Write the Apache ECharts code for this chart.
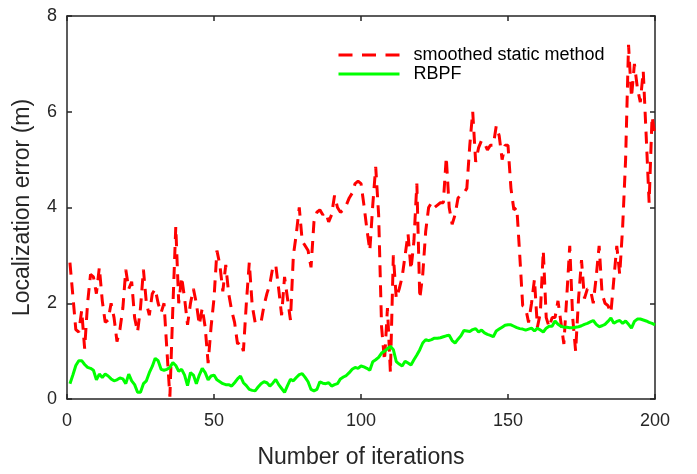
<!DOCTYPE html>
<html>
<head>
<meta charset="utf-8">
<script src="https://cdn.jsdelivr.net/npm/echarts@6/dist/echarts.min.js"></script>
<style>
html,body{margin:0;padding:0;background:#fff;}
#c{width:697px;height:474px;}
</style>
</head>
<body>
<div id="c"></div>
<script>
const xTicks = [0, 50, 100, 150, 200];
const yTicks = [0, 2, 4, 6, 8];
const seriesNames = ['smoothed static method', 'RBPF'];
const iterations = [];
for (let i = 1; i <= 200; i++) iterations.push(i);

const smoothedStatic = [
2.85,2.15,1.45,1.4,1.85,1.05,2.0,2.6,2.55,2.2,
2.75,2.05,1.6,1.65,2.0,1.7,1.2,1.45,1.9,2.7,
2.3,2.45,1.7,1.4,1.9,2.7,2.0,1.75,2.2,2.3,
2.0,1.8,2.0,1.0,0.05,1.9,3.6,2.0,2.55,2.1,
1.55,2.0,2.3,2.0,1.55,1.9,1.5,0.75,1.5,2.1,
3.1,2.8,2.25,2.8,2.2,1.85,1.6,1.15,1.2,1.0,
2.0,2.85,1.95,1.6,1.6,1.6,1.95,2.2,2.4,2.75,
2.8,2.3,1.75,2.55,2.1,1.65,3.0,3.45,4.0,3.3,
3.2,3.1,2.75,3.7,3.9,3.95,3.85,3.9,3.7,3.85,
4.25,4.0,3.9,3.95,4.05,4.2,4.3,4.5,4.55,4.5,
4.05,3.55,3.1,4.05,4.85,3.85,1.5,0.8,1.9,0.55,
3.0,2.1,2.3,2.55,3.0,3.45,2.7,3.3,4.5,2.1,
2.6,3.5,4.0,4.1,4.0,4.05,4.1,4.1,5.05,4.0,
3.65,3.85,4.2,4.25,4.3,4.4,5.3,6.0,4.95,5.25,
5.4,5.35,5.2,5.3,5.3,5.7,5.5,5.0,5.3,5.3,
4.4,3.95,4.0,3.0,1.95,1.9,1.6,2.0,2.5,1.5,
1.8,3.1,1.7,1.5,1.7,1.7,2.05,1.6,1.15,2.15,
3.2,1.7,1.0,2.1,2.9,2.1,2.3,2.3,2.0,2.55,
3.2,2.2,2.0,1.95,1.8,2.5,3.2,2.6,3.6,5.0,
7.4,6.3,7.0,6.5,6.2,6.85,5.5,4.1,5.9,5.5
];

const rbpf = [
0.32,0.5,0.7,0.8,0.8,0.72,0.66,0.64,0.6,0.4,
0.52,0.45,0.52,0.48,0.42,0.38,0.4,0.44,0.42,0.32,
0.52,0.38,0.3,0.14,0.14,0.32,0.38,0.55,0.68,0.85,
0.8,0.62,0.6,0.62,0.66,0.76,0.7,0.58,0.62,0.5,
0.28,0.55,0.5,0.32,0.5,0.64,0.55,0.4,0.48,0.5,
0.4,0.36,0.32,0.3,0.3,0.27,0.34,0.42,0.48,0.34,
0.28,0.2,0.18,0.17,0.25,0.32,0.36,0.34,0.27,0.33,
0.41,0.3,0.22,0.14,0.28,0.41,0.38,0.45,0.51,0.53,
0.45,0.36,0.2,0.17,0.2,0.36,0.33,0.32,0.34,0.27,
0.3,0.32,0.42,0.46,0.49,0.55,0.62,0.66,0.64,0.69,
0.67,0.64,0.6,0.78,0.82,0.87,0.96,1.0,1.05,1.1,
1.03,0.78,0.73,0.69,0.79,0.75,0.71,0.82,0.92,1.03,
1.17,1.24,1.22,1.24,1.27,1.27,1.28,1.3,1.32,1.33,
1.22,1.17,1.25,1.32,1.43,1.42,1.41,1.45,1.47,1.4,
1.44,1.38,1.35,1.33,1.3,1.42,1.46,1.5,1.54,1.55,
1.55,1.52,1.49,1.47,1.46,1.44,1.46,1.48,1.42,1.48,
1.44,1.4,1.48,1.52,1.52,1.63,1.56,1.52,1.5,1.5,
1.49,1.49,1.5,1.51,1.53,1.56,1.58,1.61,1.64,1.56,
1.51,1.53,1.56,1.62,1.69,1.58,1.62,1.64,1.58,1.63,
1.56,1.48,1.62,1.67,1.67,1.65,1.63,1.6,1.58,1.55
];

const FONT = 'Liberation Sans';
const AX = '#262626';
const RED = '#ff0000';
const GREEN = '#00ff00';
const chart = echarts.init(document.getElementById('c'), null, {renderer: 'canvas'});

function pairs(vals) { return iterations.map((x, k) => [x, vals[k]]); }

const baseX = {
  type: 'value', min: xTicks[0], max: xTicks[xTicks.length - 1], interval: 50,
  splitLine: {show: false},
  axisLine: {show: true, onZero: false, lineStyle: {color: AX, width: 1.5}},
  axisTick: {show: true, inside: true, length: 5, lineStyle: {color: AX, width: 1.5}}
};
const baseY = {
  type: 'value', min: yTicks[0], max: yTicks[yTicks.length - 1], interval: 2,
  splitLine: {show: false},
  axisLine: {show: true, onZero: false, lineStyle: {color: AX, width: 1.5}},
  axisTick: {show: true, inside: true, length: 5, lineStyle: {color: AX, width: 1.5}}
};

chart.setOption({
  animation: false,
  backgroundColor: '#ffffff',
  grid: {left: 67, right: 42, top: 16, bottom: 69, containLabel: false},
  legend: {
    orient: 'vertical', left: 337, top: 46, padding: 0,
    itemWidth: 61, itemHeight: 14, itemGap: 1,
    itemStyle: {opacity: 0},
    textStyle: {fontFamily: FONT, fontSize: 18, color: '#000', padding: [0,0,0,9]},
    data: [
      {name: seriesNames[0], lineStyle: {type: [14, 9.5], width: 3}},
      {name: seriesNames[1], lineStyle: {type: 'solid', width: 3}}
    ]
  },
  xAxis: [
    Object.assign({}, baseX, {
      position: 'bottom',
      name: 'Number of iterations', nameLocation: 'middle', nameGap: 47,
      nameTextStyle: {fontFamily: FONT, fontSize: 23, color: AX},
      axisLabel: {show: true, margin: 13, fontFamily: FONT, fontSize: 18, color: AX}
    }),
    Object.assign({}, baseX, {position: 'top', axisLabel: {show: false}})
  ],
  yAxis: [
    Object.assign({}, baseY, {
      position: 'left',
      name: 'Localization error (m)', nameLocation: 'middle', nameGap: 33,
      nameTextStyle: {fontFamily: FONT, fontSize: 23, color: AX},
      axisLabel: {show: true, margin: 10, fontFamily: FONT, fontSize: 18, color: AX}
    }),
    Object.assign({}, baseY, {position: 'right', axisLabel: {show: false}})
  ],
  series: [
    {
      name: seriesNames[0], type: 'line', data: pairs(smoothedStatic),
      symbol: 'none', smooth: false, z: 3,
      lineStyle: {color: RED, width: 3, type: [12, 8]},
      itemStyle: {color: RED}
    },
    {
      name: seriesNames[1], type: 'line', data: pairs(rbpf),
      symbol: 'none', smooth: false, z: 4,
      lineStyle: {color: GREEN, width: 3, type: 'solid'},
      itemStyle: {color: GREEN}
    }
  ]
});
</script>
</body>
</html>
